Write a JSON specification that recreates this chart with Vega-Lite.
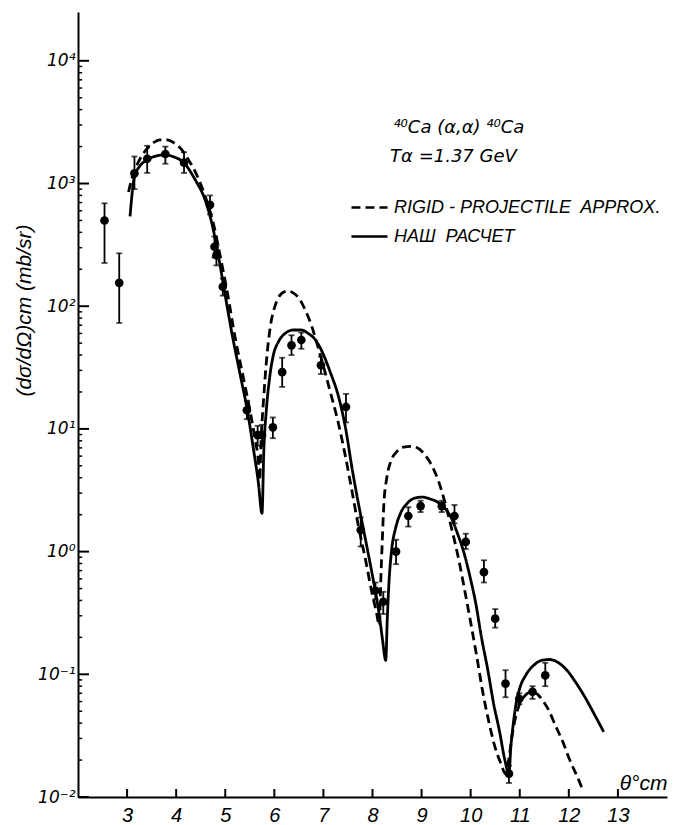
{
  "$schema": "https://vega.github.io/schema/vega-lite/v6.json",
  "width": 589,
  "height": 785,
  "autosize": "none",
  "padding": {"left": 78, "top": 12, "right": 6, "bottom": 28},
  "background": "white",
  "config": {
    "view": {"stroke": null},
    "font": "Liberation Sans",
    "axisX": {
      "ticks": false, "grid": false, "domainColor": "black", "domainWidth": 2,
      "labelPadding": 8, "labelFontSize": 20, "labelFont": "Liberation Sans",
      "labelFontStyle": "italic", "labelColor": "black", "labelFlush": false,
      "titleFontSize": 21, "titleFont": "Liberation Sans",
      "titleFontStyle": "italic", "titleFontWeight": "normal", "titleColor": "black",
      "titleX": 589, "titleY": -4, "titleAlign": "right", "titleBaseline": "bottom"
    },
    "axisY": {
      "ticks": false, "grid": false, "domainColor": "black", "domainWidth": 2,
      "labelPadding": 3, "labelFontSize": 17, "labelFont": "DejaVu Sans",
      "labelFontStyle": "italic", "labelColor": "black", "labelOverlap": false, "labelBound": false,
      "titleFontSize": 21, "titleFont": "Liberation Sans",
      "titleFontStyle": "italic", "titleFontWeight": "normal", "titleColor": "black",
      "titleAngle": -90, "titleX": -54, "titleY": 298, "titleAlign": "center", "titleBaseline": "middle"
    }
  },
  "datasets": {
    "xticks": [{"v": 3}, {"v": 4}, {"v": 5}, {"v": 6}, {"v": 7}, {"v": 8}, {"v": 9}, {"v": 10}, {"v": 11}, {"v": 12}, {"v": 13}],
    "ymajor": [{"v": 0.01}, {"v": 0.1}, {"v": 1}, {"v": 10}, {"v": 100}, {"v": 1000}, {"v": 10000}],
    "yminor": [
      {"v": 0.02}, {"v": 0.03}, {"v": 0.04}, {"v": 0.05}, {"v": 0.06}, {"v": 0.07}, {"v": 0.08}, {"v": 0.09},
      {"v": 0.2}, {"v": 0.3}, {"v": 0.4}, {"v": 0.5}, {"v": 0.6}, {"v": 0.7}, {"v": 0.8}, {"v": 0.9},
      {"v": 2}, {"v": 3}, {"v": 4}, {"v": 5}, {"v": 6}, {"v": 7}, {"v": 8}, {"v": 9},
      {"v": 20}, {"v": 30}, {"v": 40}, {"v": 50}, {"v": 60}, {"v": 70}, {"v": 80}, {"v": 90},
      {"v": 200}, {"v": 300}, {"v": 400}, {"v": 500}, {"v": 600}, {"v": 700}, {"v": 800}, {"v": 900},
      {"v": 2000}, {"v": 3000}, {"v": 4000}, {"v": 5000}, {"v": 6000}, {"v": 7000}, {"v": 8000}, {"v": 9000}
    ],
    "points": [
      {"theta": 2.54, "sigma": 500, "lo": 225, "hi": 690},
      {"theta": 2.84, "sigma": 155, "lo": 73, "hi": 270},
      {"theta": 3.15, "sigma": 1210, "lo": 900, "hi": 1660},
      {"theta": 3.41, "sigma": 1590, "lo": 1220, "hi": 2030},
      {"theta": 3.78, "sigma": 1740, "lo": 1450, "hi": 2000},
      {"theta": 4.16, "sigma": 1480, "lo": 1220, "hi": 1800},
      {"theta": 4.69, "sigma": 670, "lo": 560, "hi": 800},
      {"theta": 4.78, "sigma": 305, "lo": 250, "hi": 370},
      {"theta": 4.82, "sigma": 260, "lo": 215, "hi": 315},
      {"theta": 4.95, "sigma": 144, "lo": 122, "hi": 168},
      {"theta": 5.44, "sigma": 14.2, "lo": 12, "hi": 17},
      {"theta": 5.66, "sigma": 8.9, "lo": 7.3, "hi": 10.6},
      {"theta": 5.75, "sigma": 8.9, "lo": 7.2, "hi": 10.8},
      {"theta": 5.97, "sigma": 10.3, "lo": 8.4, "hi": 12.4},
      {"theta": 6.16, "sigma": 29, "lo": 22, "hi": 38},
      {"theta": 6.35, "sigma": 48, "lo": 40, "hi": 58},
      {"theta": 6.55, "sigma": 53, "lo": 45, "hi": 61},
      {"theta": 6.95, "sigma": 33, "lo": 28, "hi": 39},
      {"theta": 7.46, "sigma": 15.1, "lo": 11.3, "hi": 19.3},
      {"theta": 7.76, "sigma": 1.5, "lo": 1.1, "hi": 1.9},
      {"theta": 8.06, "sigma": 0.48, "lo": 0.41, "hi": 0.56},
      {"theta": 8.22, "sigma": 0.39, "lo": 0.31, "hi": 0.47},
      {"theta": 8.48, "sigma": 1.0, "lo": 0.79, "hi": 1.25},
      {"theta": 8.73, "sigma": 1.95, "lo": 1.6, "hi": 2.3},
      {"theta": 8.98, "sigma": 2.35, "lo": 2.1, "hi": 2.6},
      {"theta": 9.41, "sigma": 2.35, "lo": 2.1, "hi": 2.6},
      {"theta": 9.67, "sigma": 1.95, "lo": 1.7, "hi": 2.4},
      {"theta": 9.9, "sigma": 1.2, "lo": 1.05, "hi": 1.4},
      {"theta": 10.27, "sigma": 0.68, "lo": 0.56, "hi": 0.85},
      {"theta": 10.5, "sigma": 0.284, "lo": 0.24, "hi": 0.34},
      {"theta": 10.71, "sigma": 0.084, "lo": 0.065, "hi": 0.108},
      {"theta": 10.78, "sigma": 0.0155, "lo": 0.013, "hi": 0.018},
      {"theta": 10.99, "sigma": 0.063, "lo": 0.057, "hi": 0.07},
      {"theta": 11.26, "sigma": 0.072, "lo": 0.063, "hi": 0.08},
      {"theta": 11.52, "sigma": 0.098, "lo": 0.08, "hi": 0.124}
    ],
    "curves": [
      {"model": "НАШ РАСЧЕТ", "theta": 3.06, "sigma": 540},
      {"model": "НАШ РАСЧЕТ", "theta": 3.15, "sigma": 1140},
      {"model": "НАШ РАСЧЕТ", "theta": 3.25, "sigma": 1370},
      {"model": "НАШ РАСЧЕТ", "theta": 3.41, "sigma": 1560},
      {"model": "НАШ РАСЧЕТ", "theta": 3.6, "sigma": 1680},
      {"model": "НАШ РАСЧЕТ", "theta": 3.78, "sigma": 1710},
      {"model": "НАШ РАСЧЕТ", "theta": 3.95, "sigma": 1650},
      {"model": "НАШ РАСЧЕТ", "theta": 4.16, "sigma": 1470},
      {"model": "НАШ РАСЧЕТ", "theta": 4.39, "sigma": 1069},
      {"model": "НАШ РАСЧЕТ", "theta": 4.59, "sigma": 734},
      {"model": "НАШ РАСЧЕТ", "theta": 4.735, "sigma": 459},
      {"model": "НАШ РАСЧЕТ", "theta": 4.857, "sigma": 262},
      {"model": "НАШ РАСЧЕТ", "theta": 4.98, "sigma": 136},
      {"model": "НАШ РАСЧЕТ", "theta": 5.143, "sigma": 58},
      {"model": "НАШ РАСЧЕТ", "theta": 5.306, "sigma": 27.5},
      {"model": "НАШ РАСЧЕТ", "theta": 5.449, "sigma": 14.2},
      {"model": "НАШ РАСЧЕТ", "theta": 5.571, "sigma": 7.0},
      {"model": "НАШ РАСЧЕТ", "theta": 5.673, "sigma": 3.7},
      {"model": "НАШ РАСЧЕТ", "theta": 5.749, "sigma": 2.05},
      {"model": "НАШ РАСЧЕТ", "theta": 5.786, "sigma": 6.7},
      {"model": "НАШ РАСЧЕТ", "theta": 5.837, "sigma": 14.2},
      {"model": "НАШ РАСЧЕТ", "theta": 5.898, "sigma": 25},
      {"model": "НАШ РАСЧЕТ", "theta": 5.98, "sigma": 40},
      {"model": "НАШ РАСЧЕТ", "theta": 6.08, "sigma": 51},
      {"model": "НАШ РАСЧЕТ", "theta": 6.22, "sigma": 60},
      {"model": "НАШ РАСЧЕТ", "theta": 6.39, "sigma": 64},
      {"model": "НАШ РАСЧЕТ", "theta": 6.55, "sigma": 64},
      {"model": "НАШ РАСЧЕТ", "theta": 6.69, "sigma": 60},
      {"model": "НАШ РАСЧЕТ", "theta": 6.84, "sigma": 53},
      {"model": "НАШ РАСЧЕТ", "theta": 6.98, "sigma": 42},
      {"model": "НАШ РАСЧЕТ", "theta": 7.14, "sigma": 29},
      {"model": "НАШ РАСЧЕТ", "theta": 7.31, "sigma": 18.2},
      {"model": "НАШ РАСЧЕТ", "theta": 7.45, "sigma": 10.2},
      {"model": "НАШ РАСЧЕТ", "theta": 7.59, "sigma": 4.6},
      {"model": "НАШ РАСЧЕТ", "theta": 7.71, "sigma": 2.5},
      {"model": "НАШ РАСЧЕТ", "theta": 7.84, "sigma": 1.36},
      {"model": "НАШ РАСЧЕТ", "theta": 7.96, "sigma": 0.77},
      {"model": "НАШ РАСЧЕТ", "theta": 8.06, "sigma": 0.47},
      {"model": "НАШ РАСЧЕТ", "theta": 8.14, "sigma": 0.3},
      {"model": "НАШ РАСЧЕТ", "theta": 8.2, "sigma": 0.197},
      {"model": "НАШ РАСЧЕТ", "theta": 8.27, "sigma": 0.13},
      {"model": "НАШ РАСЧЕТ", "theta": 8.3, "sigma": 0.275},
      {"model": "НАШ РАСЧЕТ", "theta": 8.33, "sigma": 0.51},
      {"model": "НАШ РАСЧЕТ", "theta": 8.39, "sigma": 1.03},
      {"model": "НАШ РАСЧЕТ", "theta": 8.47, "sigma": 1.55},
      {"model": "НАШ РАСЧЕТ", "theta": 8.57, "sigma": 2.05},
      {"model": "НАШ РАСЧЕТ", "theta": 8.71, "sigma": 2.48},
      {"model": "НАШ РАСЧЕТ", "theta": 8.86, "sigma": 2.73},
      {"model": "НАШ РАСЧЕТ", "theta": 9.02, "sigma": 2.78},
      {"model": "НАШ РАСЧЕТ", "theta": 9.18, "sigma": 2.68},
      {"model": "НАШ РАСЧЕТ", "theta": 9.33, "sigma": 2.53},
      {"model": "НАШ РАСЧЕТ", "theta": 9.47, "sigma": 2.26},
      {"model": "НАШ РАСЧЕТ", "theta": 9.61, "sigma": 1.87},
      {"model": "НАШ РАСЧЕТ", "theta": 9.73, "sigma": 1.41},
      {"model": "НАШ РАСЧЕТ", "theta": 9.86, "sigma": 0.99},
      {"model": "НАШ РАСЧЕТ", "theta": 9.98, "sigma": 0.64},
      {"model": "НАШ РАСЧЕТ", "theta": 10.1, "sigma": 0.386},
      {"model": "НАШ РАСЧЕТ", "theta": 10.22, "sigma": 0.2},
      {"model": "НАШ РАСЧЕТ", "theta": 10.35, "sigma": 0.108},
      {"model": "НАШ РАСЧЕТ", "theta": 10.47, "sigma": 0.057},
      {"model": "НАШ РАСЧЕТ", "theta": 10.59, "sigma": 0.034},
      {"model": "НАШ РАСЧЕТ", "theta": 10.69, "sigma": 0.0206},
      {"model": "НАШ РАСЧЕТ", "theta": 10.78, "sigma": 0.0155},
      {"model": "НАШ РАСЧЕТ", "theta": 10.82, "sigma": 0.026},
      {"model": "НАШ РАСЧЕТ", "theta": 10.86, "sigma": 0.037},
      {"model": "НАШ РАСЧЕТ", "theta": 10.92, "sigma": 0.056},
      {"model": "НАШ РАСЧЕТ", "theta": 11.0, "sigma": 0.077},
      {"model": "НАШ РАСЧЕТ", "theta": 11.12, "sigma": 0.098},
      {"model": "НАШ РАСЧЕТ", "theta": 11.29, "sigma": 0.119},
      {"model": "НАШ РАСЧЕТ", "theta": 11.45, "sigma": 0.13},
      {"model": "НАШ РАСЧЕТ", "theta": 11.61, "sigma": 0.132},
      {"model": "НАШ РАСЧЕТ", "theta": 11.78, "sigma": 0.125},
      {"model": "НАШ РАСЧЕТ", "theta": 11.96, "sigma": 0.108},
      {"model": "НАШ РАСЧЕТ", "theta": 12.14, "sigma": 0.086},
      {"model": "НАШ РАСЧЕТ", "theta": 12.33, "sigma": 0.065},
      {"model": "НАШ РАСЧЕТ", "theta": 12.51, "sigma": 0.048},
      {"model": "НАШ РАСЧЕТ", "theta": 12.71, "sigma": 0.034},
      {"model": "RIGID - PROJECTILE APPROX.", "theta": 3.03, "sigma": 853},
      {"model": "RIGID - PROJECTILE APPROX.", "theta": 3.1, "sigma": 1110},
      {"model": "RIGID - PROJECTILE APPROX.", "theta": 3.22, "sigma": 1470},
      {"model": "RIGID - PROJECTILE APPROX.", "theta": 3.37, "sigma": 1845},
      {"model": "RIGID - PROJECTILE APPROX.", "theta": 3.53, "sigma": 2140},
      {"model": "RIGID - PROJECTILE APPROX.", "theta": 3.67, "sigma": 2270},
      {"model": "RIGID - PROJECTILE APPROX.", "theta": 3.82, "sigma": 2270},
      {"model": "RIGID - PROJECTILE APPROX.", "theta": 3.96, "sigma": 2140},
      {"model": "RIGID - PROJECTILE APPROX.", "theta": 4.1, "sigma": 1915},
      {"model": "RIGID - PROJECTILE APPROX.", "theta": 4.24, "sigma": 1585},
      {"model": "RIGID - PROJECTILE APPROX.", "theta": 4.39, "sigma": 1245},
      {"model": "RIGID - PROJECTILE APPROX.", "theta": 4.53, "sigma": 920},
      {"model": "RIGID - PROJECTILE APPROX.", "theta": 4.65, "sigma": 668},
      {"model": "RIGID - PROJECTILE APPROX.", "theta": 4.78, "sigma": 434},
      {"model": "RIGID - PROJECTILE APPROX.", "theta": 4.9, "sigma": 253},
      {"model": "RIGID - PROJECTILE APPROX.", "theta": 5.04, "sigma": 131},
      {"model": "RIGID - PROJECTILE APPROX.", "theta": 5.2, "sigma": 56},
      {"model": "RIGID - PROJECTILE APPROX.", "theta": 5.37, "sigma": 26},
      {"model": "RIGID - PROJECTILE APPROX.", "theta": 5.51, "sigma": 13.7},
      {"model": "RIGID - PROJECTILE APPROX.", "theta": 5.61, "sigma": 8.1},
      {"model": "RIGID - PROJECTILE APPROX.", "theta": 5.68, "sigma": 5.1},
      {"model": "RIGID - PROJECTILE APPROX.", "theta": 5.7, "sigma": 3.8},
      {"model": "RIGID - PROJECTILE APPROX.", "theta": 5.73, "sigma": 8.1},
      {"model": "RIGID - PROJECTILE APPROX.", "theta": 5.78, "sigma": 17.2},
      {"model": "RIGID - PROJECTILE APPROX.", "theta": 5.84, "sigma": 36},
      {"model": "RIGID - PROJECTILE APPROX.", "theta": 5.92, "sigma": 69},
      {"model": "RIGID - PROJECTILE APPROX.", "theta": 6.02, "sigma": 102},
      {"model": "RIGID - PROJECTILE APPROX.", "theta": 6.14, "sigma": 126},
      {"model": "RIGID - PROJECTILE APPROX.", "theta": 6.27, "sigma": 133},
      {"model": "RIGID - PROJECTILE APPROX.", "theta": 6.39, "sigma": 128},
      {"model": "RIGID - PROJECTILE APPROX.", "theta": 6.51, "sigma": 115},
      {"model": "RIGID - PROJECTILE APPROX.", "theta": 6.63, "sigma": 93},
      {"model": "RIGID - PROJECTILE APPROX.", "theta": 6.76, "sigma": 69},
      {"model": "RIGID - PROJECTILE APPROX.", "theta": 6.88, "sigma": 48},
      {"model": "RIGID - PROJECTILE APPROX.", "theta": 7.0, "sigma": 32.5},
      {"model": "RIGID - PROJECTILE APPROX.", "theta": 7.14, "sigma": 20},
      {"model": "RIGID - PROJECTILE APPROX.", "theta": 7.29, "sigma": 11.8},
      {"model": "RIGID - PROJECTILE APPROX.", "theta": 7.43, "sigma": 6.5},
      {"model": "RIGID - PROJECTILE APPROX.", "theta": 7.57, "sigma": 3.3},
      {"model": "RIGID - PROJECTILE APPROX.", "theta": 7.71, "sigma": 1.64},
      {"model": "RIGID - PROJECTILE APPROX.", "theta": 7.86, "sigma": 0.85},
      {"model": "RIGID - PROJECTILE APPROX.", "theta": 7.98, "sigma": 0.48},
      {"model": "RIGID - PROJECTILE APPROX.", "theta": 8.08, "sigma": 0.32},
      {"model": "RIGID - PROJECTILE APPROX.", "theta": 8.14, "sigma": 0.25},
      {"model": "RIGID - PROJECTILE APPROX.", "theta": 8.17, "sigma": 0.6},
      {"model": "RIGID - PROJECTILE APPROX.", "theta": 8.2, "sigma": 1.24},
      {"model": "RIGID - PROJECTILE APPROX.", "theta": 8.23, "sigma": 2.39},
      {"model": "RIGID - PROJECTILE APPROX.", "theta": 8.29, "sigma": 3.97},
      {"model": "RIGID - PROJECTILE APPROX.", "theta": 8.37, "sigma": 5.4},
      {"model": "RIGID - PROJECTILE APPROX.", "theta": 8.49, "sigma": 6.5},
      {"model": "RIGID - PROJECTILE APPROX.", "theta": 8.63, "sigma": 7.1},
      {"model": "RIGID - PROJECTILE APPROX.", "theta": 8.78, "sigma": 7.2},
      {"model": "RIGID - PROJECTILE APPROX.", "theta": 8.92, "sigma": 7.0},
      {"model": "RIGID - PROJECTILE APPROX.", "theta": 9.06, "sigma": 6.2},
      {"model": "RIGID - PROJECTILE APPROX.", "theta": 9.2, "sigma": 5.1},
      {"model": "RIGID - PROJECTILE APPROX.", "theta": 9.35, "sigma": 3.7},
      {"model": "RIGID - PROJECTILE APPROX.", "theta": 9.49, "sigma": 2.4},
      {"model": "RIGID - PROJECTILE APPROX.", "theta": 9.63, "sigma": 1.44},
      {"model": "RIGID - PROJECTILE APPROX.", "theta": 9.76, "sigma": 0.85},
      {"model": "RIGID - PROJECTILE APPROX.", "theta": 9.88, "sigma": 0.48},
      {"model": "RIGID - PROJECTILE APPROX.", "theta": 10.0, "sigma": 0.265},
      {"model": "RIGID - PROJECTILE APPROX.", "theta": 10.12, "sigma": 0.143},
      {"model": "RIGID - PROJECTILE APPROX.", "theta": 10.24, "sigma": 0.074},
      {"model": "RIGID - PROJECTILE APPROX.", "theta": 10.37, "sigma": 0.041},
      {"model": "RIGID - PROJECTILE APPROX.", "theta": 10.49, "sigma": 0.026},
      {"model": "RIGID - PROJECTILE APPROX.", "theta": 10.61, "sigma": 0.019},
      {"model": "RIGID - PROJECTILE APPROX.", "theta": 10.71, "sigma": 0.0155},
      {"model": "RIGID - PROJECTILE APPROX.", "theta": 10.78, "sigma": 0.0206},
      {"model": "RIGID - PROJECTILE APPROX.", "theta": 10.84, "sigma": 0.031},
      {"model": "RIGID - PROJECTILE APPROX.", "theta": 10.9, "sigma": 0.042},
      {"model": "RIGID - PROJECTILE APPROX.", "theta": 10.98, "sigma": 0.055},
      {"model": "RIGID - PROJECTILE APPROX.", "theta": 11.08, "sigma": 0.065},
      {"model": "RIGID - PROJECTILE APPROX.", "theta": 11.2, "sigma": 0.071},
      {"model": "RIGID - PROJECTILE APPROX.", "theta": 11.33, "sigma": 0.07},
      {"model": "RIGID - PROJECTILE APPROX.", "theta": 11.45, "sigma": 0.0625},
      {"model": "RIGID - PROJECTILE APPROX.", "theta": 11.59, "sigma": 0.051},
      {"model": "RIGID - PROJECTILE APPROX.", "theta": 11.73, "sigma": 0.038},
      {"model": "RIGID - PROJECTILE APPROX.", "theta": 11.88, "sigma": 0.028},
      {"model": "RIGID - PROJECTILE APPROX.", "theta": 12.02, "sigma": 0.02},
      {"model": "RIGID - PROJECTILE APPROX.", "theta": 12.16, "sigma": 0.015},
      {"model": "RIGID - PROJECTILE APPROX.", "theta": 12.29, "sigma": 0.0113}
    ]
  },
  "layer": [
    {
      "data": {"name": "curves"},
      "mark": {"type": "line", "color": "black", "strokeWidth": 2.8, "interpolate": "monotone"},
      "encoding": {
        "x": {
          "field": "theta", "type": "quantitative", "title": "θ°cm",
          "scale": {"domain": [2, 14], "nice": false, "zero": false},
          "axis": {"values": [3, 4, 5, 6, 7, 8, 9, 10, 11, 12, 13]}
        },
        "y": {
          "field": "sigma", "type": "quantitative", "title": "(dσ/dΩ)cm (mb/sr)",
          "scale": {"type": "log", "domain": [0.01, 25000], "nice": false},
          "axis": {
            "values": [0.01, 0.1, 1, 10, 100, 1000, 10000],
            "labelExpr": "'10' + ['⁻²','⁻¹','⁰','¹','²','³','⁴'][round(log(datum.value)/LN10) + 2]"
          }
        },
        "strokeDash": {
          "field": "model", "type": "nominal",
          "scale": {"domain": ["RIGID - PROJECTILE APPROX.", "НАШ РАСЧЕТ"], "range": [[9, 5], [1, 0]]},
          "legend": {
            "orient": "none", "legendX": 272, "legendY": 176, "title": null,
            "symbolType": "stroke", "symbolSize": 1300, "symbolStrokeWidth": 2.5,
            "symbolStrokeColor": "black", "labelFontSize": 18, "labelFont": "Liberation Sans",
            "labelFontStyle": "italic", "labelColor": "black", "labelOffset": 5,
            "labelExpr": "datum.label == 'НАШ РАСЧЕТ' ? 'НАШ\u00a0 РАСЧЕТ' : 'RIGID - PROJECTILE\u00a0 APPROX.'",
            "rowPadding": 0, "padding": 0, "labelLimit": 400
          }
        }
      }
    },
    {
      "data": {"name": "xticks"},
      "mark": {"type": "rule", "color": "black", "strokeWidth": 2},
      "encoding": {
        "x": {"field": "v", "type": "quantitative", "title": "θ°cm", "scale": {"domain": [2, 14], "nice": false, "zero": false}},
        "y": {"datum": 0.01, "type": "quantitative", "title": "(dσ/dΩ)cm (mb/sr)", "scale": {"type": "log", "domain": [0.01, 25000], "nice": false}},
        "y2": {"datum": 0.01162}
      }
    },
    {
      "data": {"name": "ymajor"},
      "mark": {"type": "rule", "color": "black", "strokeWidth": 2},
      "encoding": {
        "x": {"datum": 2, "type": "quantitative", "title": "θ°cm", "scale": {"domain": [2, 14], "nice": false, "zero": false}},
        "x2": {"datum": 2.224},
        "y": {"field": "v", "type": "quantitative", "title": "(dσ/dΩ)cm (mb/sr)", "scale": {"type": "log", "domain": [0.01, 25000], "nice": false}}
      }
    },
    {
      "data": {"name": "yminor"},
      "mark": {"type": "rule", "color": "black", "strokeWidth": 1.5},
      "encoding": {
        "x": {"datum": 2, "type": "quantitative", "title": "θ°cm", "scale": {"domain": [2, 14], "nice": false, "zero": false}},
        "x2": {"datum": 2.085},
        "y": {"field": "v", "type": "quantitative", "title": "(dσ/dΩ)cm (mb/sr)", "scale": {"type": "log", "domain": [0.01, 25000], "nice": false}}
      }
    },
    {
      "data": {"name": "points"},
      "mark": {"type": "errorbar", "color": "black", "thickness": 1.8, "ticks": {"size": 6, "thickness": 1.8, "color": "black"}},
      "encoding": {
        "x": {"field": "theta", "type": "quantitative", "title": "θ°cm", "scale": {"domain": [2, 14], "nice": false, "zero": false}},
        "y": {"field": "lo", "type": "quantitative", "title": "(dσ/dΩ)cm (mb/sr)", "scale": {"type": "log", "domain": [0.01, 25000], "nice": false}},
        "y2": {"field": "hi"}
      }
    },
    {
      "data": {"name": "points"},
      "mark": {"type": "circle", "size": 75, "color": "black", "opacity": 1},
      "encoding": {
        "x": {"field": "theta", "type": "quantitative", "title": "θ°cm", "scale": {"domain": [2, 14], "nice": false, "zero": false}},
        "y": {"field": "sigma", "type": "quantitative", "title": "(dσ/dΩ)cm (mb/sr)", "scale": {"type": "log", "domain": [0.01, 25000], "nice": false}}
      }
    },
    {
      "data": {"values": [{}]},
      "mark": {"type": "text", "font": "DejaVu Sans", "fontStyle": "italic", "fontSize": 18, "align": "center", "baseline": "middle", "color": "black"},
      "encoding": {
        "x": {"datum": 9.76, "type": "quantitative", "title": "θ°cm"},
        "y": {"datum": 2840, "type": "quantitative", "title": "(dσ/dΩ)cm (mb/sr)"},
        "text": {"value": "⁴⁰Ca (α,α) ⁴⁰Ca"}
      }
    },
    {
      "data": {"values": [{}]},
      "mark": {"type": "text", "font": "DejaVu Sans", "fontStyle": "italic", "fontSize": 18, "align": "center", "baseline": "middle", "color": "black"},
      "encoding": {
        "x": {"datum": 9.65, "type": "quantitative", "title": "θ°cm"},
        "y": {"datum": 1650, "type": "quantitative", "title": "(dσ/dΩ)cm (mb/sr)"},
        "text": {"value": "Tα =1.37 GeV"}
      }
    }
  ]
}
